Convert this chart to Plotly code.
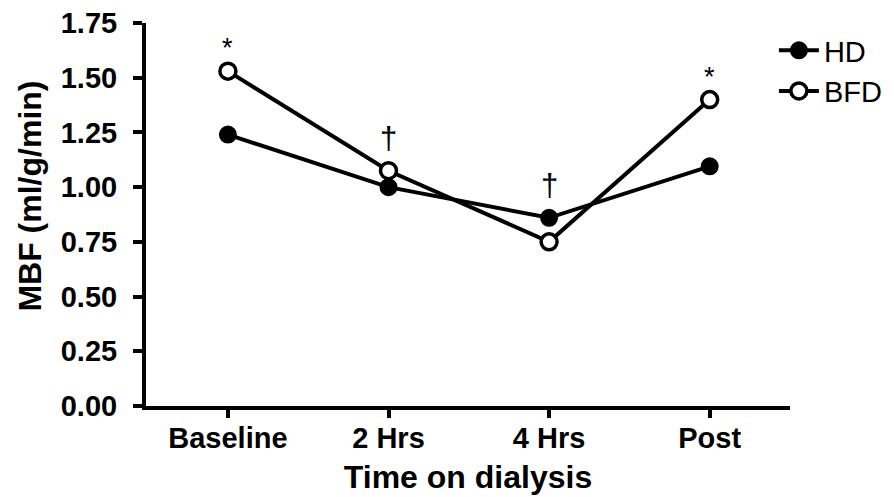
import plotly.graph_objects as go

categories = ["Baseline", "2 Hrs", "4 Hrs", "Post"]
hd = [1.24, 1.00, 0.86, 1.095]
bfd = [1.53, 1.075, 0.75, 1.40]
marks = ["*", "†", "†", "*"]
y_ticks = [0, 0.25, 0.5, 0.75, 1.0, 1.25, 1.5, 1.75]
y_tick_text = [f"{v:.2f}" for v in y_ticks]

xpos = list(range(len(categories)))
FONT = "Liberation Sans, Arial, sans-serif"

fig = go.Figure()
fig.add_trace(go.Scatter(
    x=xpos, y=hd, name="HD", mode="lines+markers",
    line=dict(color="black", width=4),
    marker=dict(symbol="circle", size=16, color="black", line=dict(color="black", width=2)),
))
fig.add_trace(go.Scatter(
    x=xpos, y=bfd, name="BFD", mode="lines+markers",
    line=dict(color="black", width=4),
    marker=dict(symbol="circle", size=16, color="white", line=dict(color="black", width=3.5)),
))

for i, m in enumerate(marks):
    top = max(hd[i], bfd[i])
    is_star = m == "*"
    fig.add_annotation(
        x=xpos[i], y=top, text=m, showarrow=False,
        yanchor="bottom", yshift=6 if is_star else 13,
        font=dict(family=FONT, size=27 if is_star else 31, color="black"),
    )

# y-axis title as a rotated paper annotation (sits slightly above the axis middle, as in the original)
fig.add_annotation(
    xref="paper", yref="paper", x=-0.18, y=0.547, xanchor="center", yanchor="middle",
    text="<b>MBF (ml/g/min)</b>", textangle=-90, showarrow=False,
    font=dict(family=FONT, size=32, color="black"),
)

fig.update_layout(
    width=894, height=497,
    margin=dict(l=146, r=104, t=23, b=91, autoexpand=False),
    paper_bgcolor="white", plot_bgcolor="white",
    font=dict(family=FONT, color="black"),
    showlegend=True,
    legend=dict(
        x=0.975, y=0.995, xanchor="left", yanchor="top",
        font=dict(family=FONT, size=29, color="black"),
        bgcolor="rgba(0,0,0,0)", itemwidth=40, tracegroupgap=0,
    ),
)
fig.update_xaxes(
    range=[-0.51, 3.5], tickvals=xpos, ticktext=categories,
    showline=True, linecolor="black", linewidth=4,
    ticks="outside", ticklen=8, tickwidth=4, tickcolor="black",
    ticklabelstandoff=-5,
    showgrid=False, zeroline=False,
    tickfont=dict(family=FONT, size=29, color="black", weight="bold"),
    title=dict(text="<b>Time on dialysis</b>", font=dict(family=FONT, size=32, color="black"), standoff=14),
)
fig.update_yaxes(
    range=[0, 1.75], tickvals=y_ticks, ticktext=y_tick_text,
    showline=True, linecolor="black", linewidth=4,
    ticks="outside", ticklen=9, tickwidth=4, tickcolor="black",
    ticklabelstandoff=10,
    showgrid=False, zeroline=False,
    tickfont=dict(family=FONT, size=29, color="black", weight="bold"),
)

fig.write_html("out.html")
